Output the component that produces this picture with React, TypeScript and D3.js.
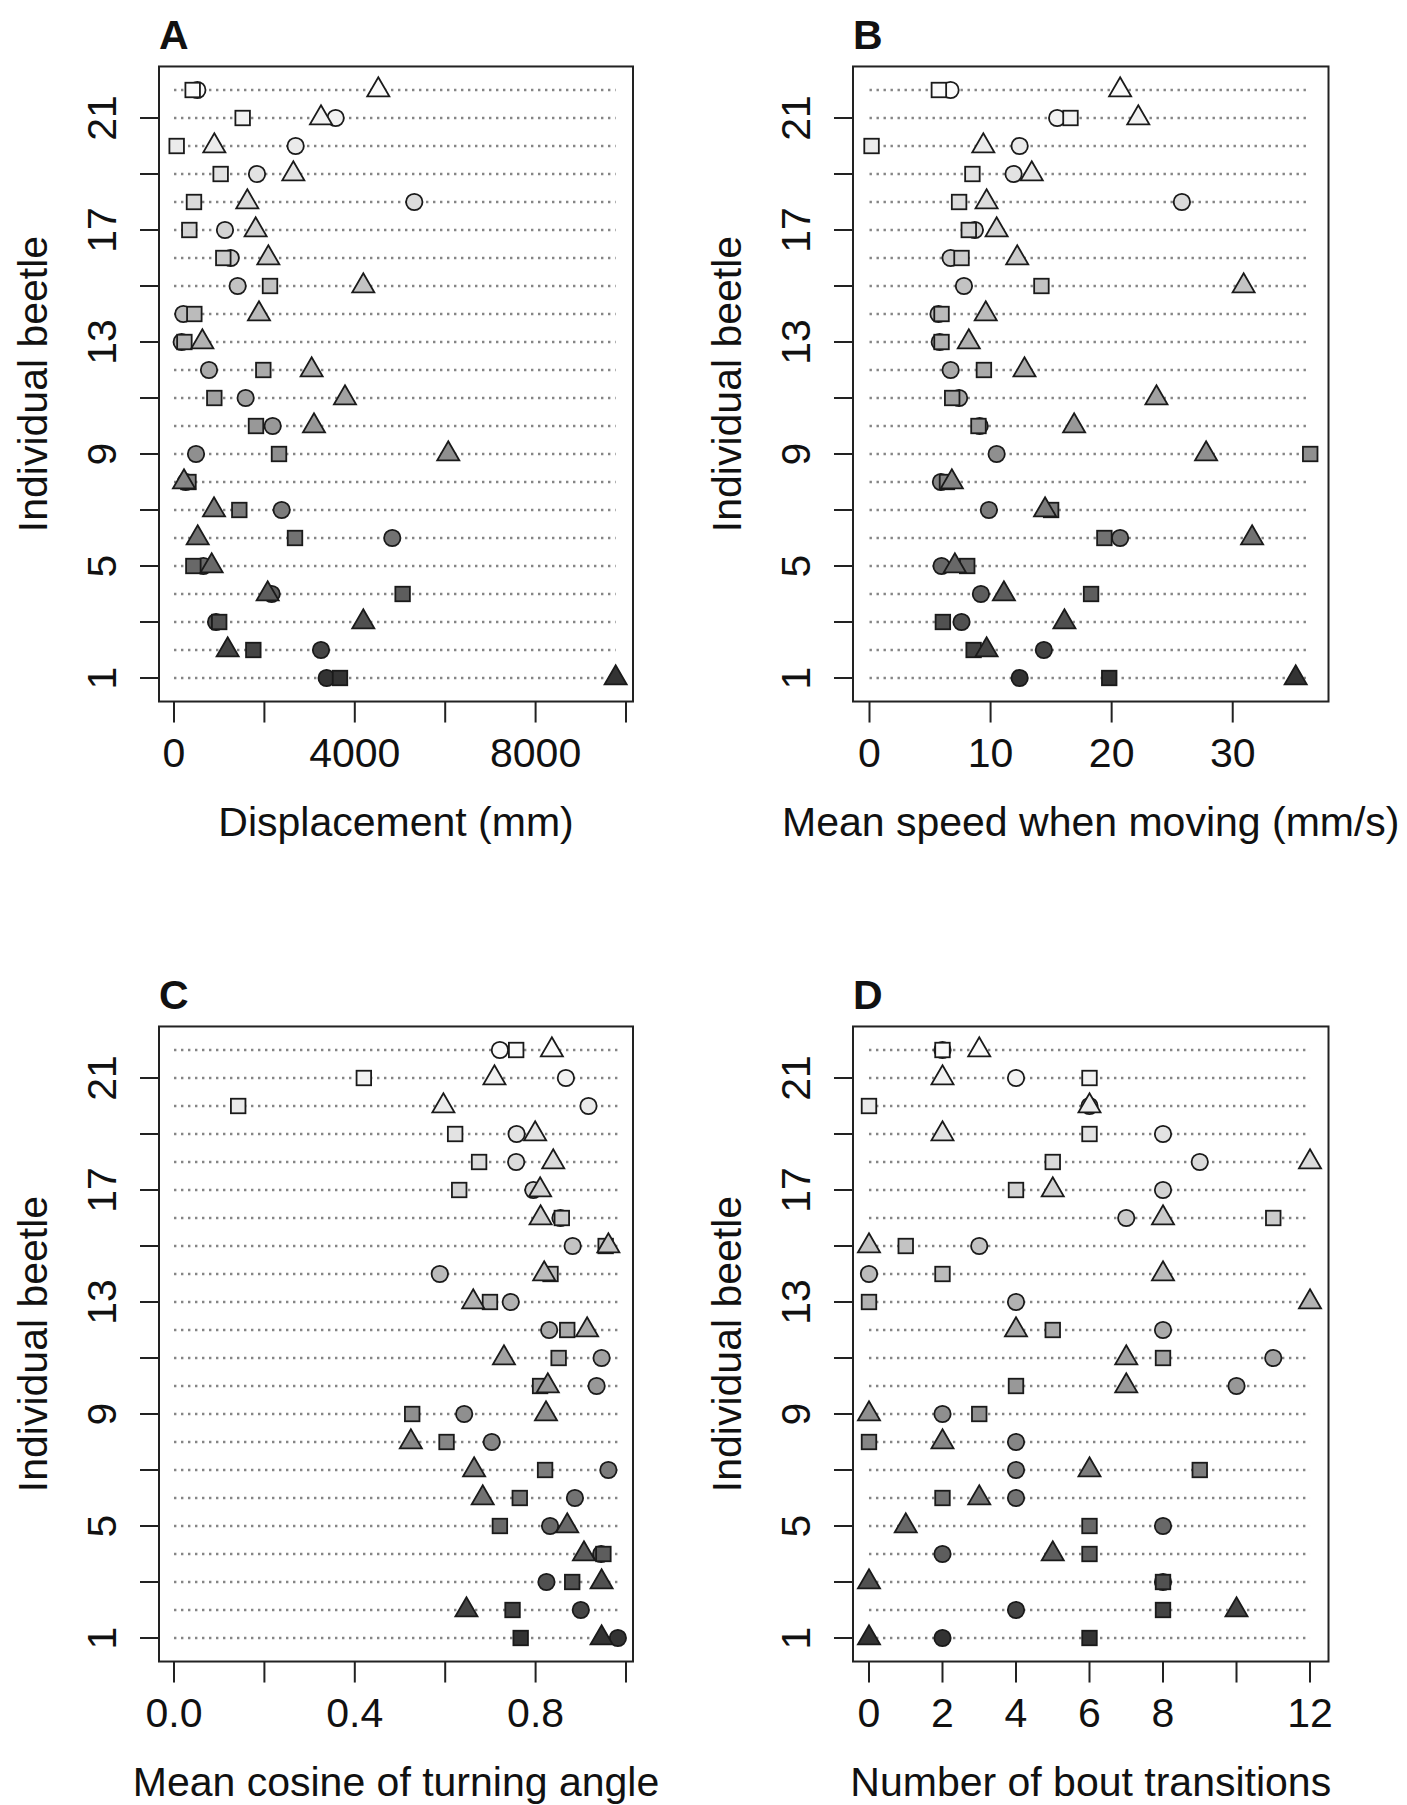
import React from "react";
import * as d3 from "d3";

// Beetle index 1..22 (array index 0 = beetle 1)
const beetles = d3.range(1, 23);

// Panel A: Displacement (mm)
const dispCircle = [3377, 3252, 930, 2160, 649, 4829, 2382, 260, 487, 2183, 1585, 774, 170, 206, 1408, 1254, 1128, 5316, 1836, 2691, 3576, 516];
const dispSquare = [3672, 1755, 1000, 5058, 428, 2677, 1445, 320, 2323, 1814, 892, 1976, 230, 450, 2124, 1091, 339, 442, 1032, 59, 1519, 413];
const dispTriangle = [9771, 1187, 4188, 2072, 833, 524, 885, 221, 6068, 3097, 3783, 3045, 627, 1880, 4188, 2087, 1806, 1622, 2640, 892, 3252, 4520];

// Panel B: Mean speed when moving (mm/s)
const speedCircle = [12.4, 14.4, 7.6, 9.2, 5.95, 20.7, 9.86, 5.9, 10.5, 9.1, 7.4, 6.7, 5.8, 5.7, 7.8, 6.7, 8.7, 25.8, 11.9, 12.4, 15.5, 6.69];
const speedSquare = [19.8, 8.6, 6.06, 18.3, 8.07, 19.4, 15.0, 6.4, 36.4, 9.0, 6.83, 9.45, 5.95, 5.95, 14.2, 7.6, 8.2, 7.4, 8.5, 0.17, 16.6, 5.73];
const speedTriangle = [35.2, 9.67, 16.1, 11.1, 7.05, 31.6, 14.5, 6.8, 27.8, 16.9, 23.7, 12.8, 8.2, 9.6, 30.9, 12.2, 10.5, 9.67, 13.4, 9.4, 22.2, 20.7];

// Panel C: Mean cosine of turning angle
const cosCircle = [0.982, 0.9, 0.824, 0.945, 0.832, 0.887, 0.961, 0.703, 0.642, 0.935, 0.946, 0.83, 0.745, 0.588, 0.882, 0.855, 0.795, 0.757, 0.758, 0.917, 0.867, 0.721];
const cosSquare = [0.767, 0.749, 0.881, 0.95, 0.721, 0.765, 0.821, 0.603, 0.527, 0.81, 0.851, 0.87, 0.699, 0.833, 0.955, 0.858, 0.631, 0.675, 0.622, 0.142, 0.42, 0.757];
const cosTriangle = [0.946, 0.647, 0.946, 0.907, 0.87, 0.683, 0.664, 0.524, 0.823, 0.827, 0.73, 0.914, 0.662, 0.819, 0.961, 0.811, 0.81, 0.839, 0.799, 0.596, 0.709, 0.836];

// Panel D: Number of bout transitions
const boutCircle = [2, 4, 8, 2, 8, 4, 4, 4, 2, 10, 11, 8, 4, 0, 3, 7, 8, 9, 8, 6, 4, 2];
const boutSquare = [6, 8, 8, 6, 6, 2, 9, 0, 3, 4, 8, 5, 0, 2, 1, 11, 4, 5, 6, 0, 6, 2];
const boutTriangle = [0, 10, 0, 5, 1, 3, 6, 2, 0, 7, 7, 4, 12, 8, 0, 8, 5, 12, 2, 6, 2, 3];

// Axis ticks / labels
const yTicks = [1, 3, 5, 7, 9, 11, 13, 15, 17, 19, 21];
const yTickLabels = [1, 5, 9, 13, 17, 21];
const dispTicks = [0, 2000, 4000, 6000, 8000, 10000];
const dispTickLabels = [0, 4000, 8000];
const speedTicks = [0, 10, 20, 30];
const speedTickLabels = [0, 10, 20, 30];
const cosTicks = [0, 0.2, 0.4, 0.6, 0.8, 1.0];
const cosTickLabels = [0, 0.4, 0.8];
const boutTicks = [0, 2, 4, 6, 8, 10, 12];
const boutTickLabels = [0, 2, 4, 6, 8, 12];

const FONT = "'Liberation Sans', Arial, Helvetica, sans-serif";

const panels = [
  { letter: "A", col: 0, row: 0, circle: dispCircle, square: dispSquare, triangle: dispTriangle, domain: [-332, 10155], ticks: dispTicks, tickLabels: dispTickLabels, fmt: (v: number) => String(v), xlab: "Displacement (mm)" },
  { letter: "B", col: 1, row: 0, circle: speedCircle, square: speedSquare, triangle: speedTriangle, domain: [-1.363, 37.91], ticks: speedTicks, tickLabels: speedTickLabels, fmt: (v: number) => String(v), xlab: "Mean speed when moving (mm/s)" },
  { letter: "C", col: 0, row: 1, circle: cosCircle, square: cosSquare, triangle: cosTriangle, domain: [-0.0332, 1.0155], ticks: cosTicks, tickLabels: cosTickLabels, fmt: (v: number) => v.toFixed(1), xlab: "Mean cosine of turning angle" },
  { letter: "D", col: 1, row: 1, circle: boutCircle, square: boutSquare, triangle: boutTriangle, domain: [-0.435, 12.503], ticks: boutTicks, tickLabels: boutTickLabels, fmt: (v: number) => String(v), xlab: "Number of bout transitions" },
];

const colLeft = [159, 853];
const colRight = [633, 1328.5];
const rowY1 = [678, 1638];
const rowY22 = [90, 1050];

const fillScale = (b: number) => {
  const t = (b - 1) / 21;
  const lv = 0.2 + 0.78 * Math.pow(t, 0.8);
  const c = Math.round(lv * 255);
  return `rgb(${c},${c},${c})`;
};

const R = 8.2;
const STROKE = "#1a1a1a";

function Panel({ p }: { p: any }) {
  const left = colLeft[p.col];
  const right = colRight[p.col];
  const x = d3.scaleLinear().domain(p.domain).range([left, right]);
  const y = d3.scaleLinear().domain([1, 22]).range([rowY1[p.row], rowY22[p.row]]);
  const top = y(22.84);
  const bottom = y(0.16);
  const maxV = d3.max([...p.circle, ...p.square, ...p.triangle]) as number;
  const tri = (cx: number, cy: number) => {
    const r = 1.5551 * R, xc = 1.3468 * R, yc = 0.7776 * R;
    return `M${cx},${cy - r}L${cx + xc},${cy + yc}L${cx - xc},${cy + yc}Z`;
  };
  const hs = 0.886 * R;
  return (
    <g>
      <text x={left} y={top - 17.7} fontFamily={FONT} fontWeight="bold" fontSize={41} fill="#111">{p.letter}</text>
      {beetles.map((b) => (
        <line key={"l" + b} x1={x(0)} x2={x(maxV)} y1={y(b)} y2={y(b)} stroke="#858585" strokeWidth={2.4} strokeDasharray="2.4 4.6" />
      ))}
      {beetles.map((b, i) => (
        <circle key={"c" + b} cx={x(p.circle[i])} cy={y(b)} r={R} fill={fillScale(b)} stroke={STROKE} strokeWidth={1.8} />
      ))}
      {beetles.map((b, i) => (
        <rect key={"s" + b} x={x(p.square[i]) - hs} y={y(b) - hs} width={2 * hs} height={2 * hs} fill={fillScale(b)} stroke={STROKE} strokeWidth={1.8} />
      ))}
      {beetles.map((b, i) => (
        <path key={"t" + b} d={tri(x(p.triangle[i]), y(b))} fill={fillScale(b)} stroke={STROKE} strokeWidth={1.8} strokeLinejoin="miter" />
      ))}
      <rect x={left} y={top} width={right - left} height={bottom - top} fill="none" stroke="#222" strokeWidth={2} />
      {p.ticks.map((t: number) => (
        <line key={"xt" + t} x1={x(t)} x2={x(t)} y1={bottom} y2={bottom + 21} stroke="#222" strokeWidth={2} />
      ))}
      {p.tickLabels.map((t: number) => (
        <text key={"xl" + t} x={x(t)} y={bottom + 65} textAnchor="middle" fontFamily={FONT} fontSize={41} fill="#111">{p.fmt(t)}</text>
      ))}
      <text x={(left + right) / 2} y={bottom + 134} textAnchor="middle" fontFamily={FONT} fontSize={41} fill="#111">{p.xlab}</text>
      {yTicks.map((t) => (
        <line key={"yt" + t} x1={left} x2={left - 19} y1={y(t)} y2={y(t)} stroke="#222" strokeWidth={2} />
      ))}
      {yTickLabels.map((t) => (
        <text key={"yl" + t} transform={`translate(${left - 43},${y(t)}) rotate(-90)`} textAnchor="middle" fontFamily={FONT} fontSize={41} fill="#111">{t}</text>
      ))}
      <text transform={`translate(${left - 112},${(top + bottom) / 2}) rotate(-90)`} textAnchor="middle" fontFamily={FONT} fontSize={41} fill="#111">Individual beetle</text>
    </g>
  );
}

export default function App() {
  return (
    <svg width={1407} height={1805} style={{ position: "absolute", left: 0, top: 0, background: "#fff" }}>
      <rect x={0} y={0} width={1407} height={1805} fill="#fff" />
      {panels.map((p) => (
        <Panel key={p.letter} p={p} />
      ))}
    </svg>
  );
}
